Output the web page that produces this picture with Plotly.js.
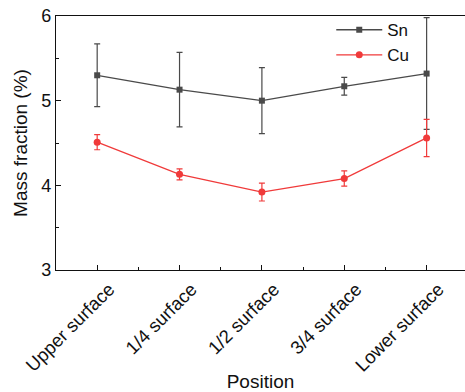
<!DOCTYPE html>
<html>
<head>
<meta charset="utf-8">
<script src="https://cdn.plot.ly/plotly-3.0.1.min.js"></script>
<style>
  html, body { margin: 0; padding: 0; background: #fff; }
  #chart { width: 465px; height: 392px; }
</style>
</head>
<body>
<div id="chart"></div>
<script>
// Sampling positions through the casting
const positions = ['Upper surface', '1/4 surface', '1/2 surface', '3/4 surface', 'Lower surface'];

// Sn content (%) and standard deviation
const snMean = [5.30, 5.13, 5.00, 5.17, 5.32];
const snErr  = [0.37, 0.44, 0.39, 0.105, 0.66];

// Cu content (%) and standard deviation
const cuMean = [4.51, 4.13, 3.92, 4.08, 4.56];
const cuErr  = [0.09, 0.065, 0.105, 0.09, 0.22];

const idx = positions.map((_, i) => i);
const FONT = 'Arial, "Liberation Sans", sans-serif';

const snTrace = {
  x: idx, y: snMean, name: 'Sn', type: 'scatter', mode: 'lines+markers',
  line: { color: '#4a4a4a', width: 1.3 },
  marker: { symbol: 'square', size: 6, color: '#4a4a4a' },
  error_y: { type: 'data', array: snErr, visible: true, color: '#4a4a4a', thickness: 1.2, width: 3 }
};

const cuTrace = {
  x: idx, y: cuMean, name: 'Cu', type: 'scatter', mode: 'lines+markers',
  line: { color: '#f03a3a', width: 1.3 },
  marker: { symbol: 'circle', size: 7, color: '#f03a3a' },
  error_y: { type: 'data', array: cuErr, visible: true, color: '#f03a3a', thickness: 1.2, width: 3 }
};

const layout = {
  width: 465, height: 392,
  margin: { l: 56, r: 0, t: 16, b: 122 },
  paper_bgcolor: '#fff', plot_bgcolor: '#fff',
  font: { family: FONT, color: '#111' },
  showlegend: true,
  legend: {
    x: 0.673, y: 1.015, xanchor: 'left', yanchor: 'top',
    bgcolor: 'rgba(0,0,0,0)', font: { size: 17, family: FONT, color: '#111' },
    itemwidth: 46, tracegroupgap: 0
  },
  xaxis: {
    range: [-0.5, 4.466],
    tickmode: 'array', tickvals: idx, ticktext: positions,
    tickangle: -45, tickfont: { size: 18.5, family: FONT, color: '#111' },
    ticklabelshift: 12, ticklabelstandoff: 0,
    ticks: 'inside', ticklen: 5, tickcolor: '#111', tickwidth: 1,
    minor: { tick0: 0.5, dtick: 1, ticks: 'inside', ticklen: 3, tickcolor: '#111', showgrid: false },
    showline: true, linecolor: '#111', linewidth: 1.2, mirror: true,
    showgrid: false, zeroline: false,
    title: { text: 'Position', font: { size: 19, family: FONT, color: '#111' }, standoff: 0 }
  },
  yaxis: {
    range: [3, 6],
    tickvals: [3, 4, 5, 6],
    tickfont: { size: 18, family: FONT, color: '#111' },
    ticks: 'inside', ticklen: 5, tickcolor: '#111', tickwidth: 1,
    minor: { tick0: 3.5, dtick: 1, ticks: 'inside', ticklen: 3, tickcolor: '#111', showgrid: false },
    showline: true, linecolor: '#111', linewidth: 1.2,
    showgrid: false, zeroline: false,
    title: { text: 'Mass fraction (%)', font: { size: 19, family: FONT, color: '#111' }, standoff: 8 }
  }
};

Plotly.newPlot('chart', [snTrace, cuTrace], layout, { displayModeBar: false, staticPlot: true });
</script>
</body>
</html>
